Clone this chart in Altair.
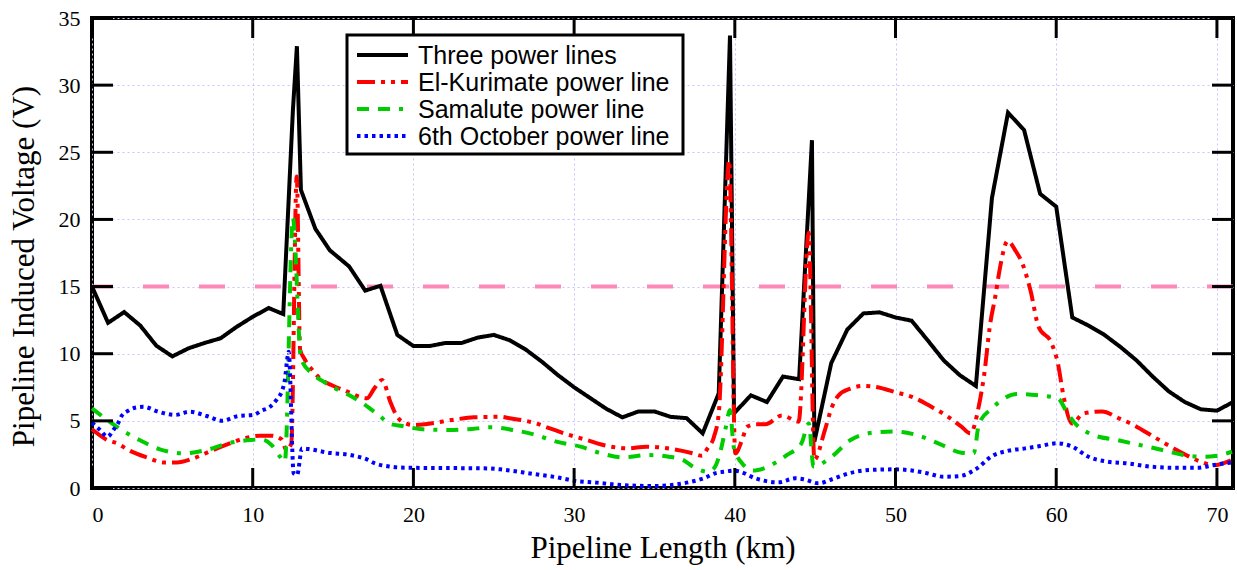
import altair as alt
import pandas as pd

# ---------------- data ----------------
series_names = ["Three power lines", "El-Kurimate power line",
                "Samalute power line", "6th October power line"]

three_x = [0, 1, 2, 3, 4, 5, 6, 7, 8, 9, 10, 11, 11.9, 12.5, 12.75, 13.0, 13.9, 14.8, 16, 17, 17.95,
           19, 20, 21, 22, 23, 24, 25, 26, 27, 28, 29, 30, 31, 32, 33, 34, 35, 36, 37, 38, 39,
           39.7, 39.95, 41, 42, 43, 44, 44.8, 44.95, 46, 47, 48, 49, 50, 51, 52, 53, 54, 55,
           56, 57, 58, 59, 60, 61, 62, 63, 64, 65, 66, 67, 68, 69, 70, 71]
three_y = [15.0, 12.3, 13.1, 12.1, 10.6, 9.8, 10.4, 10.8, 11.15, 12.0, 12.75, 13.4, 12.95, 28.1, 32.9,
           22.2, 19.3, 17.7, 16.5, 14.7, 15.06, 11.4, 10.57, 10.57, 10.8, 10.8, 11.2, 11.4, 11.0,
           10.3, 9.4, 8.4, 7.5, 6.7, 5.9, 5.26, 5.7, 5.7, 5.3, 5.2, 4.07, 7.05, 33.7, 5.56, 6.9,
           6.4, 8.3, 8.1, 25.9, 3.45, 9.3, 11.8, 13.0, 13.08, 12.7, 12.46, 11.0, 9.5, 8.4, 7.6,
           21.6, 27.95, 26.66, 21.9, 20.95, 12.7, 12.1, 11.4, 10.5, 9.5, 8.3, 7.2, 6.4, 5.86, 5.76, 6.4]

kur_x = [0, 0.9, 1.64, 2.26, 3.4, 4.54, 5.27, 6.3, 7.44, 8.17, 9.5, 10.45, 11.14, 11.8, 12.1, 12.4,
         12.74, 12.95, 13.2, 13.8, 14.3, 14.9, 15.9, 17.1, 17.57, 18.05, 18.56, 18.87, 19.3, 20.0,
         20.85, 22.6, 23.75, 25.4, 26.0, 27.5, 28.5, 29.56, 30.8, 32.0, 33.3, 34.5, 36.2, 37.4,
         37.96, 38.3, 38.7, 39.0, 39.65, 40.03, 40.45, 40.76, 41.3, 41.9, 42.94, 43.97, 44.6,
         44.95, 45.6, 46.05, 46.46, 47.2, 48.0, 48.6, 50.1, 51.1, 52.3, 53.1, 54.1, 54.66, 55.2,
         55.5, 55.9, 56.2, 56.5, 56.98, 57.45, 57.9, 58.4, 58.9, 59.7, 60.1, 60.46, 60.98, 61.7,
         62.85, 63.9, 64.8, 66.06, 67.5, 69.0, 69.8, 70.94]
kur_y = [4.37, 3.6, 3.28, 2.83, 2.28, 1.89, 1.89, 2.2, 2.78, 3.13, 3.7, 3.9, 3.9, 3.62, 2.83, 3.3,
         23.2, 10.3, 9.66, 8.66, 8.04, 7.67, 7.17, 6.68, 7.42, 8.04, 6.43, 5.56, 4.94, 4.69,
         4.77, 5.1, 5.26, 5.3, 5.19, 4.86, 4.44, 4.0, 3.57, 3.15, 2.95, 3.08, 2.88, 2.58,
         2.4, 2.95, 3.8, 5.56, 24.4, 2.58, 3.57, 4.56, 4.74, 4.74, 5.4, 4.94, 19.0,
         2.1, 4.3, 6.05, 6.9, 7.4, 7.6, 7.55, 7.1, 6.75, 6.0, 5.44, 4.57, 4.07, 6.2,
         8.3, 12.3, 14.2, 16.4, 18.4, 17.7, 16.7, 14.7, 12.0, 10.8, 9.3, 6.8, 4.8, 5.56,
         5.7, 5.19, 4.7, 3.82, 2.83, 1.96, 1.7, 2.1]

sam_x = [0, 0.4, 1.53, 2.88, 4.23, 5.68, 7.13, 8.48, 9.83, 10.55, 11.18, 11.7, 12.0, 12.5, 13.0,
         13.7, 14.3, 15.14, 15.87, 16.6, 17.83, 18.56, 19.3, 20.6, 22.2, 23.4, 24.8, 26.2, 27.6,
         28.9, 30.4, 31.7, 33.1, 34.5, 35.9, 36.8, 37.4, 38.3, 38.7, 39.1, 39.4, 39.7, 39.93,
         40.45, 41.17, 41.8, 43.25, 44.15, 44.6, 44.9, 45.94, 47.2, 48.6, 50.0, 51.3, 52.8,
         54.1, 54.86, 55.2, 56.0, 57.56, 58.9, 60.1, 60.7, 61.14, 62.3, 63.8, 65.2, 66.6, 67.9,
         69.2, 69.9, 70.94]
sam_y = [5.93, 5.56, 4.57, 3.62, 2.88, 2.58, 2.83, 3.33, 3.57, 3.62, 3.2, 2.33, 1.96, 20.1, 9.66,
         8.5, 8.0, 7.42, 7.0, 6.5, 5.44, 4.77, 4.62, 4.37, 4.32, 4.37, 4.52, 4.32, 3.95,
         3.45, 3.08, 2.58, 2.28, 2.46, 2.33, 2.08, 1.59, 1.21, 1.46, 2.7, 4.3, 5.8, 3.08,
         1.84, 1.3, 1.46, 2.46, 3.33, 4.8, 1.6, 2.25, 3.57, 4.12, 4.2, 3.95, 3.25,
         2.63, 2.58, 4.8, 5.93, 7.0, 6.9, 6.68, 5.56, 4.86, 3.95, 3.57, 3.2, 2.83, 2.46,
         2.33, 2.38, 2.7]

oct_x = [0, 0.5, 0.97, 1.33, 1.64, 1.84, 2.26, 2.68, 3.19, 4.13, 5.16, 6.1, 7.13, 8.1, 9.1, 10.04,
         10.55, 11.08, 11.5, 11.8, 12.0, 12.17, 12.24, 12.55, 12.76, 13.07, 13.6, 14.7, 16.07,
         17.1, 17.6, 18.56, 19.5, 24.6, 25.4, 27.5, 28.9, 29.97, 31.4, 32.9, 34.85, 36.4, 37.3,
         38.06, 38.9, 39.3, 39.93, 40.34, 41.28, 42.7, 43.77, 44.28, 45.2, 46.05, 47.1, 48.4,
         50.0, 51.1, 51.96, 53.0, 54.0, 55.07, 56.0, 57.04, 58.08, 59.0, 60.05, 61.0, 62.0,
         63.2, 64.4, 65.86, 67.3, 68.8, 69.8, 70.94]
oct_y = [4.86, 4.32, 3.82, 4.32, 4.86, 5.36, 5.76, 5.98, 6.05, 5.68, 5.44, 5.68, 5.36, 5.01, 5.36, 5.44,
         5.76, 6.05, 6.6, 7.17, 8.04, 9.78, 10.15, 1.09, 0.97, 2.95, 2.88, 2.63, 2.46,
         2.13, 1.84, 1.59, 1.51, 1.46, 1.39, 1.04, 0.8, 0.55, 0.4, 0.22, 0.15, 0.27, 0.47,
         0.72, 1.14, 1.21, 1.29, 1.21, 0.72, 0.42, 0.72, 0.65, 0.35, 0.65, 1.09, 1.34,
         1.39, 1.29, 1.1, 0.84, 0.89, 1.46, 2.38, 2.78, 2.95, 3.13, 3.33, 3.08, 2.33,
         1.96, 1.84, 1.59, 1.51, 1.51, 1.71, 1.91]

threshold = [15]
x_ticks = [0, 10, 20, 30, 40, 50, 60, 70]
y_ticks = [0, 5, 10, 15, 20, 25, 30, 35]

# ---------------- styling ----------------
colors = ["#000000", "#ff0000", "#00cc00", "#0000ff"]
dashes = [[1, 0], [18, 6, 4, 6, 4, 6], [12, 9, 12, 9, 4, 9], [3.5, 4]]
W, H = 1141, 470
SERIF = "Liberation Serif"
SANS = "Liberation Sans"

rows = []
for name, xs_, ys_ in [(series_names[0], three_x, three_y), (series_names[1], kur_x, kur_y),
                       (series_names[2], sam_x, sam_y), (series_names[3], oct_x, oct_y)]:
    for a, b in zip(xs_, ys_):
        rows.append({"series": name, "x": a, "y": b})
df = pd.DataFrame(rows)
df_black = df[df.series == series_names[0]]
df_col = df[df.series != series_names[0]]

xscale = alt.Scale(domain=[0, 71], nice=False, zero=False)
yscale = alt.Scale(domain=[0, 35], nice=False)

color_enc = alt.Color("series:N", scale=alt.Scale(domain=series_names, range=colors), legend=None)
dash_enc = alt.StrokeDash("series:N", scale=alt.Scale(domain=series_names, range=dashes), legend=None)

x_enc = alt.X("x:Q", scale=xscale,
              axis=alt.Axis(values=x_ticks, grid=True, ticks=False, domain=False,
                            labelFont=SERIF, labelFontSize=22, labelPadding=16, labelColor="black",
                            title="Pipeline Length (km)", titleFont=SERIF, titleFontSize=31,
                            titleFontWeight="normal", titlePadding=8, titleColor="black",
                            gridColor="#c4c4ff", gridDash=[2, 3], gridWidth=1))
y_enc = alt.Y("y:Q", scale=yscale,
              axis=alt.Axis(values=y_ticks, grid=True, ticks=False, domain=False,
                            labelFont=SERIF, labelFontSize=22, labelPadding=12, labelColor="black",
                            title="Pipeline Induced Voltage (V)", titleFont=SERIF, titleFontSize=31,
                            titleFontWeight="normal", titleColor="black",
                            titleX=-52, titleY=248, titleAngle=270, titleBaseline="bottom",
                            titleAlign="center",
                            gridColor="#c4c4ff", gridDash=[2, 3], gridWidth=1))

thr = alt.Chart(pd.DataFrame({"y": threshold})).mark_rule(
    color="#ff88bb", strokeWidth=4, strokeDash=[26, 30]).encode(
    y=alt.Y("y:Q", scale=yscale))

black = alt.Chart(df_black).mark_line(strokeWidth=4, strokeJoin="miter").encode(
    x=x_enc, y=y_enc, color=color_enc, strokeDash=dash_enc)

colored = alt.Chart(df_col).mark_line(strokeWidth=4, interpolate="monotone").encode(
    x=alt.X("x:Q", scale=xscale), y=alt.Y("y:Q", scale=yscale),
    color=color_enc, strokeDash=dash_enc)

xt = pd.DataFrame({"t": x_ticks})
yt = pd.DataFrame({"t": y_ticks})
tick_bottom = alt.Chart(xt).mark_rule(color="black", strokeWidth=3).encode(
    x=alt.X("t:Q", scale=xscale), y=alt.value(H), y2=alt.value(H - 20))
tick_top = alt.Chart(xt).mark_rule(color="black", strokeWidth=3).encode(
    x=alt.X("t:Q", scale=xscale), y=alt.value(0), y2=alt.value(20))
tick_left = alt.Chart(yt).mark_rule(color="black", strokeWidth=3).encode(
    y=alt.Y("t:Q", scale=yscale), x=alt.value(0), x2=alt.value(21))
tick_right = alt.Chart(yt).mark_rule(color="black", strokeWidth=3).encode(
    y=alt.Y("t:Q", scale=yscale), x=alt.value(W - 21), x2=alt.value(W))

# ---------------- legend (drawn as a box with entries) ----------------
legend_box = alt.Chart(pd.DataFrame({"a": [0]})).mark_rect(
    fill="white", stroke="black", strokeWidth=3).encode(
    x=alt.value(255), x2=alt.value(591), y=alt.value(17), y2=alt.value(136))

legend_layers = [legend_box]
for i, name in enumerate(series_names):
    ypix = 37 + 27 * i
    one = pd.DataFrame({"series": [name]})
    legend_layers.append(
        alt.Chart(one).mark_rule(strokeWidth=4, color=colors[i], strokeDash=dashes[i]).encode(
            x=alt.value(265), x2=alt.value(316), y=alt.value(ypix)))
    legend_layers.append(
        alt.Chart(one).mark_text(align="left", baseline="middle", font=SANS, fontSize=25,
                                 color="black").encode(
            x=alt.value(326), y=alt.value(ypix + 1), text="series:N"))

chart = alt.layer(thr, black, colored, tick_bottom, tick_top, tick_left, tick_right,
                  *legend_layers).properties(
    width=W, height=H,
    autosize=alt.AutoSizeParams(type="none"),
    padding={"left": 92, "top": 18, "right": 4, "bottom": 82},
    background="white",
).configure_view(stroke="black", strokeWidth=4)

chart.save("out.html", embed_options={"renderer": "svg", "actions": False})
